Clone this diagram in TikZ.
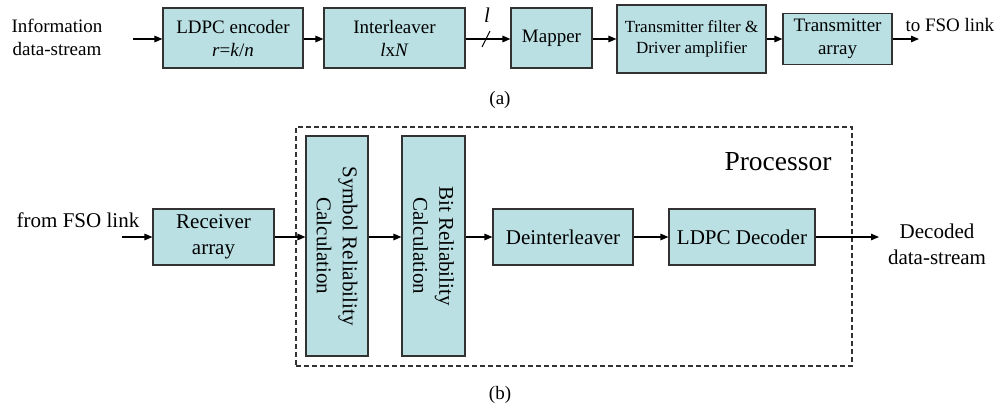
\documentclass[tikz,border=0pt]{standalone}
\usepackage{fontspec}
\setmainfont{Liberation Serif}
\usetikzlibrary{arrows.meta}
\definecolor{boxfill}{RGB}{186,224,228}
\definecolor{edge}{RGB}{50,50,50}
\tikzset{
  blk/.style={draw=edge, line width=1.1pt, fill=boxfill, inner sep=0pt, align=center},
  conn/.style={line width=1.3pt, -{Triangle[length=8pt,width=6.5pt]}},
  fa/.style={font=\fontsize{19}{23}\selectfont},
  fs/.style={font=\fontsize{17}{21}\selectfont},
  fb/.style={font=\fontsize{21}{26}\selectfont},
  fp/.style={font=\fontsize{27.5}{30}\selectfont},
}
\begin{document}
\begin{tikzpicture}[x=1pt,y=-1pt]
\useasboundingbox (0,0) rectangle (1001,407);
% ---------- (a) ----------
\node[fa, align=center] (info) at (57,37) {Information\\data-stream};
\coordinate (ina) at (133,39);
\node[blk, fa, minimum width=140pt, minimum height=60pt] (enc) at (233,38) {LDPC encoder\\\textit{r}=\textit{k}/\textit{n}};
\node[blk, fa, minimum width=141pt, minimum height=60pt] (inter) at (394.5,38) {Interleaver\\\textit{l}x\textit{N}};
\node[blk, fa, minimum width=81pt, minimum height=60pt] (map) at (551.5,38) {Mapper};
\node[blk, fs, minimum width=149pt, minimum height=68pt] (txf) at (691.5,39) {Transmitter filter \&\\Driver amplifier};
\node[blk, fa, minimum width=109pt, minimum height=51pt] (txa) at (837.5,39) {Transmitter\\array};
\coordinate (outa) at (919,39);
\node[fa, anchor=west] (tofso) at (902,25) {to FSO link};
\draw[conn] (ina) -- (ina -| enc.west);
\draw[conn] (enc.east |- ina) -- (inter.west |- ina);
\draw[conn] (inter.east |- ina) -- (map.west |- ina);
\coordinate (sl1) at (482,47);
\coordinate (sl2) at (490,31);
\draw[line width=1.1pt] (sl1) -- (sl2);
\node[font=\fontsize{21}{23}\selectfont] (lbl) at (487,15) {\textit{l}};
\draw[conn] (map.east |- ina) -- (txf.west |- ina);
\draw[conn] (txf.east |- ina) -- (txa.west |- ina);
\draw[conn] (txa.east |- ina) -- (outa);
\node[fa] (capa) at (500,100) {(a)};
% ---------- (b) ----------
\node[draw=edge, dash pattern=on 5pt off 3pt, line width=1.2pt, minimum width=556pt, minimum height=239pt, inner sep=0pt] (proc) at (574,246.5) {};
\node[fp] (proct) at (778,162) {Processor};
\node[fb] (fromfso) at (78,220) {from FSO link};
\coordinate (inb) at (122,237);
\node[blk, fb, minimum width=121pt, minimum height=56pt] (recv) at (213.5,237) {Receiver\\array};
\node[blk, minimum width=62pt, minimum height=220pt,
  label={[fb, rotate=-90, align=center]center:Symbol Reliability\\Calculation}] (sym) at (337,246) {};
\node[blk, minimum width=63pt, minimum height=220pt,
  label={[fb, rotate=-90, align=center]center:Bit Reliability\\Calculation}] (bit) at (433.5,246) {};
\node[blk, fb, minimum width=140pt, minimum height=56pt] (deint) at (563,237) {Deinterleaver};
\node[blk, fb, minimum width=146pt, minimum height=56pt] (dec) at (742,237) {LDPC Decoder};
\coordinate (outb) at (879,237);
\node[fb, align=center] (decd) at (937,244) {Decoded\\data-stream};
\draw[conn] (inb) -- (recv.west);
\draw[conn] (recv.east) -- (recv.east -| sym.west);
\draw[conn] (sym.east |- recv.east) -- (bit.west |- recv.east);
\draw[conn] (bit.east |- deint.west) -- (deint.west);
\draw[conn] (deint.east) -- (dec.west);
\draw[conn] (dec.east) -- (outb);
\node[fa] (capb) at (500,395) {(b)};
\end{tikzpicture}
\end{document}
